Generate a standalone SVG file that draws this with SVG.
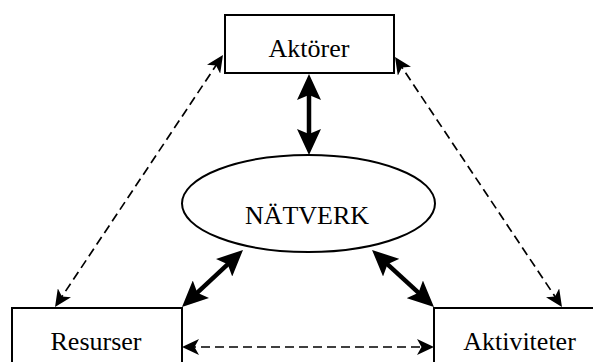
<svg xmlns="http://www.w3.org/2000/svg" width="593" height="362" viewBox="0 0 593 362">
<style>
.box{fill:#fff;stroke:#000;stroke-width:2}
.lbl{font-family:"Liberation Serif","Times New Roman",serif;font-size:26px;fill:#000;text-anchor:middle}
.thick{stroke:#000;stroke-width:4.5;fill:none}
.dash{stroke:#000;stroke-width:1.7;fill:none;stroke-dasharray:9 5}
</style>
<defs>
<marker id="big" markerUnits="userSpaceOnUse" viewBox="0 0 26 24" refX="16" refY="12" markerWidth="26" markerHeight="24" orient="auto-start-reverse">
<path d="M0,0 L26,12 L0,24 L5,12 z" fill="#000"/>
</marker>
<marker id="small" markerUnits="userSpaceOnUse" viewBox="0 0 17 16" refX="12" refY="8" markerWidth="17" markerHeight="16" orient="auto-start-reverse">
<path d="M0,0 L17,8 L0,16 L4.5,8 z" fill="#000"/>
</marker>
</defs>
<rect width="593" height="362" fill="#fff"/>
<g id="aktorer">
<rect class="box" x="225" y="15" width="169" height="58"/>
<text class="lbl" x="309" y="57">Aktörer</text>
</g>
<g id="natverk">
<ellipse cx="308.5" cy="203.5" rx="126.5" ry="48.5" fill="#fff" stroke="#000" stroke-width="2"/>
<text class="lbl" x="307" y="224">NÄTVERK</text>
</g>
<g id="resurser">
<rect class="box" x="12" y="308" width="170" height="60"/>
<text class="lbl" x="96" y="350">Resurser</text>
</g>
<g id="aktiviteter">
<rect class="box" x="434" y="308" width="175" height="60"/>
<text class="lbl" x="519.5" y="350">Aktiviteter</text>
</g>
<g id="connectors">
<line class="thick" x1="309" y1="84" x2="309" y2="145" marker-start="url(#big)" marker-end="url(#big)"/>
<line class="thick" x1="189.3" y1="300.2" x2="235.7" y2="256.8" marker-start="url(#big)" marker-end="url(#big)"/>
<line class="thick" x1="379.4" y1="256.8" x2="426.6" y2="300.2" marker-start="url(#big)" marker-end="url(#big)"/>
<line class="dash" x1="57.8" y1="302.8" x2="220.2" y2="59.2" marker-start="url(#small)" marker-end="url(#small)"/>
<line class="dash" x1="397.8" y1="61.2" x2="559.2" y2="302.8" marker-start="url(#small)" marker-end="url(#small)"/>
<line class="dash" x1="187" y1="347" x2="429" y2="347" marker-start="url(#small)" marker-end="url(#small)"/>
</g>
</svg>
